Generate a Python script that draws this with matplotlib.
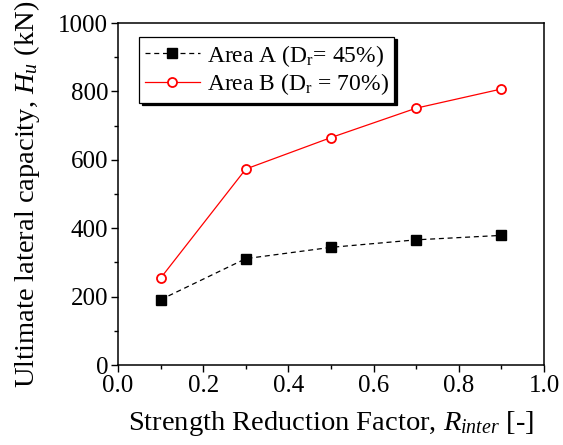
import matplotlib
matplotlib.use("Agg")
import matplotlib.pyplot as plt
from matplotlib.ticker import MultipleLocator, FormatStrFormatter

plt.rcParams['font.family'] = ['Liberation Serif', 'DejaVu Serif']
plt.rcParams['mathtext.fontset'] = 'custom'
plt.rcParams['mathtext.rm'] = 'Liberation Serif'
plt.rcParams['mathtext.it'] = 'Liberation Serif:italic'

r_inter = [0.1, 0.3, 0.5, 0.7, 0.9]
area_a = [191, 311, 344, 366, 379]
area_b = [254, 573, 665, 751, 807]

label_a = r'Area A (D$_{\mathrm{r}}$= 45%)'
label_b = r'Area B (D$_{\mathrm{r}}$ = 70%)'

fig = plt.figure(figsize=(5.63, 4.45), dpi=100)
ax = fig.add_axes([118/563, (445-365)/445, (544-118)/563, (365-23)/445])

ax.plot(r_inter, area_a, color='black', linestyle='--', linewidth=0.9,
        dashes=(4, 3), marker='s', markersize=6.5, label=label_a)
ax.plot(r_inter, area_b, color='red', linestyle='-', linewidth=0.9,
        marker='o', markersize=6.5, markerfacecolor='white',
        markeredgecolor='red', markeredgewidth=1.3, label=label_b)

ax.set_xlim(0, 1.0)
ax.set_ylim(0, 1000)
ax.xaxis.set_major_locator(MultipleLocator(0.2))
ax.xaxis.set_minor_locator(MultipleLocator(0.1))
ax.yaxis.set_major_locator(MultipleLocator(200))
ax.yaxis.set_minor_locator(MultipleLocator(100))
ax.xaxis.set_major_formatter(FormatStrFormatter('%.1f'))
ax.tick_params(which='major', direction='out', length=5, width=1, labelsize=18, pad=2)
ax.tick_params(which='minor', direction='out', length=3, width=1)
ax.tick_params(top=False, right=False)
for s in ax.spines.values():
    s.set_linewidth(1.1)

ax.set_xlabel(r'Strength Reduction Factor, $R_{inter}$ [-]', fontsize=20.5, labelpad=9)
ax.set_ylabel(r'Ultimate lateral capacity, $H_u$ (kN)', fontsize=20.5)
ax.yaxis.set_label_coords(-0.178, 0.5)

leg = ax.legend(loc='upper left', bbox_to_anchor=(0.05, 0.96), fontsize=17,
                frameon=True, fancybox=False, shadow={'color': 'black', 'alpha': 1},
                handlelength=2.3, handletextpad=0.3, borderpad=0.25,
                labelspacing=0.1, borderaxespad=0)
leg.get_frame().set_edgecolor('black')
leg.get_frame().set_linewidth(0.9)

fig.savefig('out.png', dpi=100)
